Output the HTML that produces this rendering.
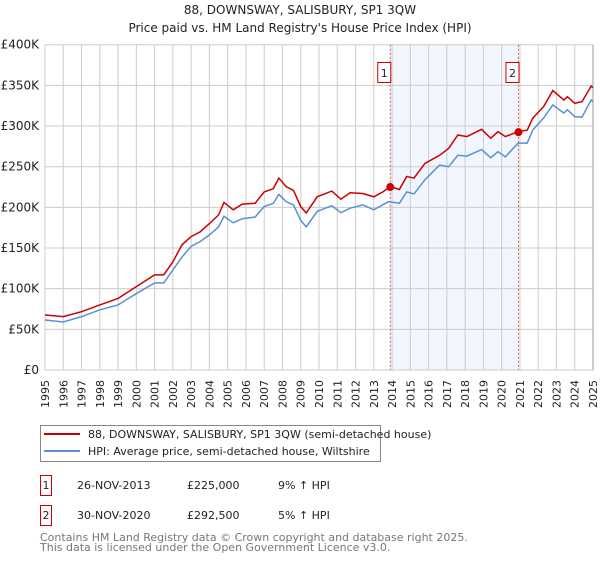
<!DOCTYPE html>
<html><head><meta charset="utf-8"><style>
body{margin:0;background:#fff;font-family:"DejaVu Sans","Liberation Sans",sans-serif;}
svg text{font-family:"DejaVu Sans","Liberation Sans",sans-serif;}
</style></head><body>
<svg id="c" width="600" height="560" xmlns="http://www.w3.org/2000/svg">
<text x="300" y="14" text-anchor="middle" font-size="12" fill="#222">88, DOWNSWAY, SALISBURY, SP1 3QW</text>
<text x="300" y="32" text-anchor="middle" font-size="12" fill="#222">Price paid vs. HM Land Registry's House Price Index (HPI)</text>
<g id="plot"></g>
<g>
<rect x="40.5" y="425.5" width="340" height="36" fill="#fff" stroke="#888"/>
<line x1="44" y1="434" x2="80" y2="434" stroke="#cc0000" stroke-width="2"/>
<text x="88" y="438" font-size="11" fill="#222">88, DOWNSWAY, SALISBURY, SP1 3QW (semi-detached house)</text>
<line x1="44" y1="451" x2="80" y2="451" stroke="#5b8fd4" stroke-width="2"/>
<text x="88" y="455" font-size="11" fill="#222">HPI: Average price, semi-detached house, Wiltshire</text>
</g>
<g font-size="11" fill="#222">
<rect x="40.5" y="475.5" width="11" height="20" fill="#fff" stroke="#cc0000"/>
<text x="46" y="489" text-anchor="middle">1</text>
<text x="77" y="489">26-NOV-2013</text>
<text x="187" y="489">£225,000</text>
<text x="278" y="489">9% ↑ HPI</text>
<rect x="40.5" y="505.5" width="11" height="20" fill="#fff" stroke="#cc0000"/>
<text x="46" y="519" text-anchor="middle">2</text>
<text x="77" y="519">30-NOV-2020</text>
<text x="187" y="519">£292,500</text>
<text x="278" y="519">5% ↑ HPI</text>
</g>
<text x="40" y="541" font-size="11" fill="#777">Contains HM Land Registry data © Crown copyright and database right 2025.</text>
<text x="40" y="551" font-size="11" fill="#777">This data is licensed under the Open Government Licence v3.0.</text>
</svg>
<script>
const hpiYears=[1995,1996,1997,1998,1999,2000,2001,2001.5,2002,2002.5,2003,2003.5,2004,2004.5,2004.8,2005.3,2005.8,2006.5,2007,2007.5,2007.8,2008.2,2008.6,2009,2009.3,2009.9,2010.7,2011.2,2011.7,2012.4,2013,2013.8,2014.4,2014.8,2015.2,2015.8,2016.6,2017.1,2017.6,2018.1,2018.9,2019.4,2019.8,2020.2,2020.9,2021.4,2021.7,2022.3,2022.8,2023.4,2023.6,2024,2024.4,2024.9,2025];
const hpiValues=[61.5,59,65.6,74,80,94,107,107,123,139,152,158,166,176,189,181,186,188,201,205,216,207,203,184,176,195,202,193.5,199,203,197,207,205,219,216.5,234,252,250,264,263,271,261,268.5,262,279,279,295,310,326,316,320,311.6,311,332,330];
const priceYears=[1995,1996,1997,1998,1999,2000,2001,2001.5,2002,2002.5,2003,2003.5,2004,2004.5,2004.8,2005.3,2005.8,2006.5,2007,2007.5,2007.8,2008.2,2008.6,2009,2009.3,2009.9,2010.7,2011.2,2011.7,2012.4,2013,2013.5,2013.9,2014.4,2014.8,2015.2,2015.8,2016.6,2017.1,2017.6,2018.1,2018.9,2019.4,2019.8,2020.2,2020.9,2021.4,2021.7,2022.3,2022.8,2023.4,2023.6,2024,2024.4,2024.9,2025];
const priceValues=[67.6,65.6,71.7,80,88,102.5,117,117,133,154,164,170,180,190.6,206,197,204,205,219,223,236,225.5,221,201,193,213,220,210,218,217,213,219,225.5,222,238,236,254,264,272.6,289,287,296,285,293,287,293,295,309.6,324,343.6,332,336,328,330,349,347];
const saleYears=[2013.9,2020.92];
const saleValues=[225,292.5];
const saleLabels=["1","2"];
const yTicks=[0,50,100,150,200,250,300,350,400];
const yTickLabels=["£0","£50K","£100K","£150K","£200K","£250K","£300K","£350K","£400K"];
const xTicks=[1995,1996,1997,1998,1999,2000,2001,2002,2003,2004,2005,2006,2007,2008,2009,2010,2011,2012,2013,2014,2015,2016,2017,2018,2019,2020,2021,2022,2023,2024,2025];

const X0=45,X1=593,Y0=370,Y1=44.7;
const x=y=>X0+(y-1995)/30*(X1-X0);
const y=v=>Y0-v/400*(Y0-Y1);
const NS="http://www.w3.org/2000/svg";
const g=document.getElementById('plot');
function mk(t,a){const e=document.createElementNS(NS,t);for(const k in a)e.setAttribute(k,a[k]);g.appendChild(e);return e;}
const sh=mk('rect',{x:x(saleYears[0]),y:Y1,width:x(saleYears[1])-x(saleYears[0]),height:Y0-Y1,fill:'#eef3fc',opacity:0.8});


xTicks.forEach(t=>{
 const l=mk('line',{x1:x(t),x2:x(t),y1:Y1,y2:Y0,stroke:'#ccc','stroke-width':1});
 
 
 const tx=mk('text',{x:0,y:0,'font-size':11,fill:'#222','text-anchor':'end',transform:`translate(${x(t)+4},380) rotate(-90)`});
 tx.textContent=t;
 
 
});
yTicks.forEach((t,i)=>{
 const l=mk('line',{x1:X0,x2:X1,y1:y(t),y2:y(t),stroke:'#ccc','stroke-width':1});
 
 
 const tx=mk('text',{x:39,y:y(t)+4,'font-size':12,fill:'#222','text-anchor':'end'});
 tx.textContent=yTickLabels[i];
 
 
});
const ax=mk('line',{x1:X1,x2:X1,y1:Y1,y2:Y0,stroke:'#999','stroke-width':1});


saleYears.forEach((s,i)=>{
 const l=mk('line',{x1:x(s),x2:x(s),y1:Y1,y2:Y0,stroke:'#e05555','stroke-width':1,'stroke-dasharray':'2,2'});
 
 
 const r=mk('rect',{x:x(s)-12.5,y:62.5,width:13,height:20,fill:'#fff',stroke:'#cc0000'});
 
 
 const t=mk('text',{x:x(s)-6,y:77,'font-size':11,fill:'#222','text-anchor':'middle'});
 t.textContent=saleLabels[i];
 
 
});
const hp=mk('polyline',{points:hpiYears.map((t,i)=>x(t)+','+y(hpiValues[i])).join(' '),fill:'none',stroke:'#5b8fd4','stroke-width':1.5});


const pp=mk('polyline',{points:priceYears.map((t,i)=>x(t)+','+y(priceValues[i])).join(' '),fill:'none',stroke:'#cc0000','stroke-width':1.5});


saleYears.forEach((s,i)=>{
 const c=mk('circle',{cx:x(s),cy:y(saleValues[i]),r:4,fill:'#cc0000'});
 
 
});
</script>
</body></html>
